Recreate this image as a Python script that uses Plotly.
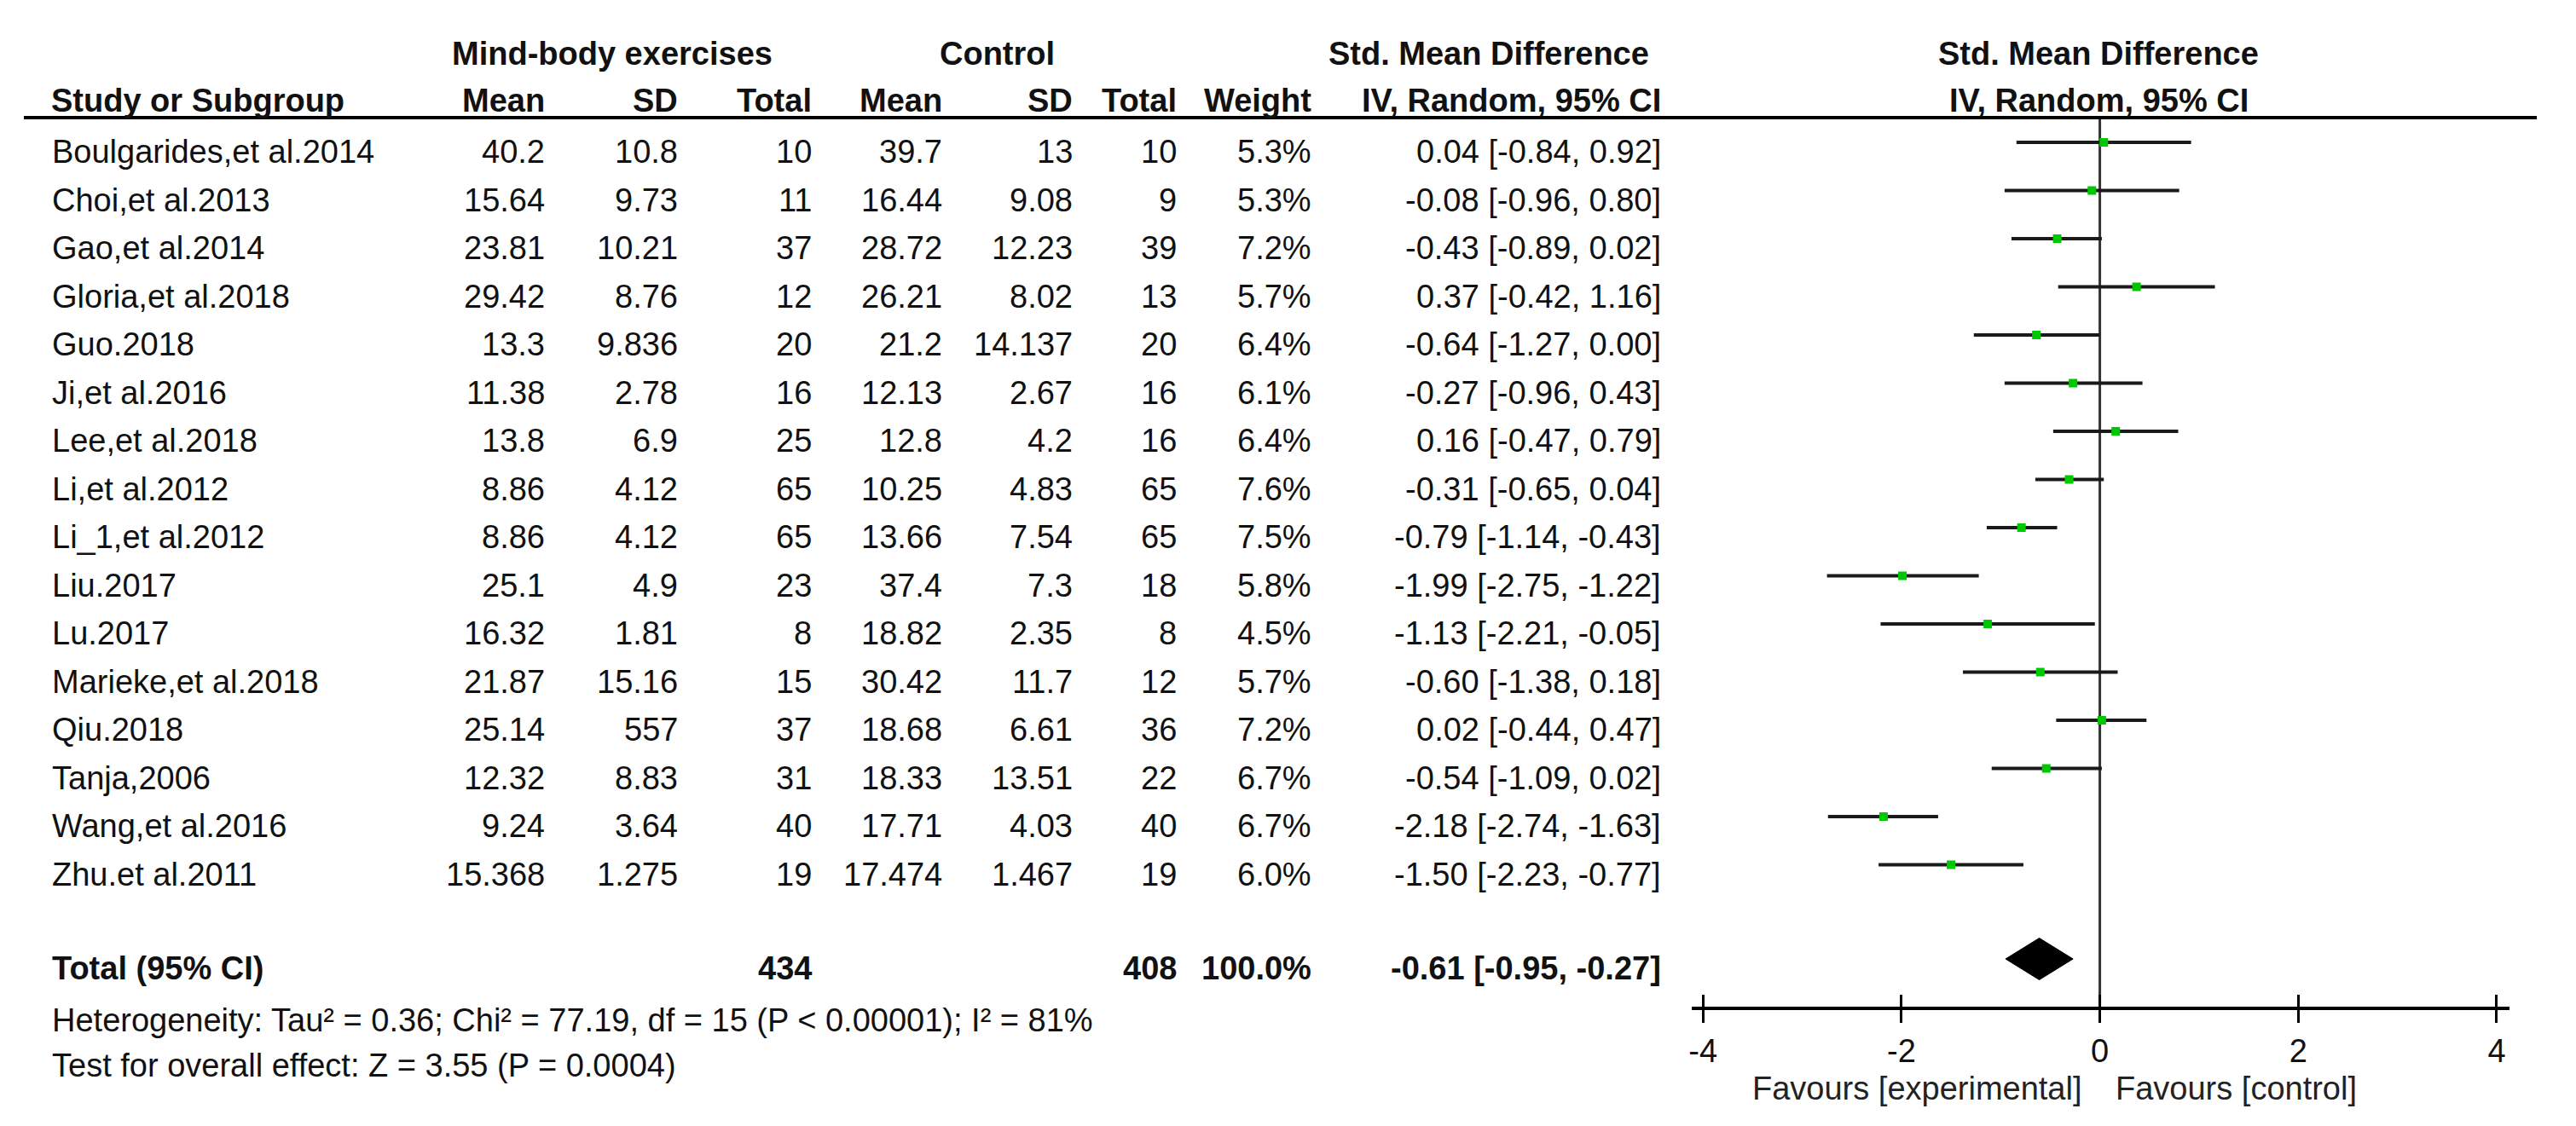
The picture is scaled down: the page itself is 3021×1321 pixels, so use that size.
import plotly.graph_objects as go

# ---------------- data ----------------
studies = ["Boulgarides,et al.2014", "Choi,et al.2013", "Gao,et al.2014", "Gloria,et al.2018",
           "Guo.2018", "Ji,et al.2016", "Lee,et al.2018", "Li,et al.2012", "Li_1,et al.2012",
           "Liu.2017", "Lu.2017", "Marieke,et al.2018", "Qiu.2018", "Tanja,2006",
           "Wang,et al.2016", "Zhu.et al.2011"]
exp_mean = [40.2, 15.64, 23.81, 29.42, 13.3, 11.38, 13.8, 8.86, 8.86, 25.1, 16.32, 21.87, 25.14, 12.32, 9.24, 15.368]
exp_sd = [10.8, 9.73, 10.21, 8.76, 9.836, 2.78, 6.9, 4.12, 4.12, 4.9, 1.81, 15.16, 557, 8.83, 3.64, 1.275]
exp_n = [10, 11, 37, 12, 20, 16, 25, 65, 65, 23, 8, 15, 37, 31, 40, 19]
ctl_mean = [39.7, 16.44, 28.72, 26.21, 21.2, 12.13, 12.8, 10.25, 13.66, 37.4, 18.82, 30.42, 18.68, 18.33, 17.71, 17.474]
ctl_sd = [13, 9.08, 12.23, 8.02, 14.137, 2.67, 4.2, 4.83, 7.54, 7.3, 2.35, 11.7, 6.61, 13.51, 4.03, 1.467]
ctl_n = [10, 9, 39, 13, 20, 16, 16, 65, 65, 18, 8, 12, 36, 22, 40, 19]
weight = [5.3, 5.3, 7.2, 5.7, 6.4, 6.1, 6.4, 7.6, 7.5, 5.8, 4.5, 5.7, 7.2, 6.7, 6.7, 6.0]
smd = [0.04, -0.08, -0.43, 0.37, -0.64, -0.27, 0.16, -0.31, -0.79, -1.99, -1.13, -0.60, 0.02, -0.54, -2.18, -1.50]
ci_lo = [-0.84, -0.96, -0.89, -0.42, -1.27, -0.96, -0.47, -0.65, -1.14, -2.75, -2.21, -1.38, -0.44, -1.09, -2.74, -2.23]
ci_hi = [0.92, 0.80, 0.02, 1.16, 0.00, 0.43, 0.79, 0.04, -0.43, -1.22, -0.05, 0.18, 0.47, 0.02, -1.63, -0.77]

total_exp_n = 434
total_ctl_n = 408
total_weight = 100.0
total_smd = -0.61
total_lo = -0.95
total_hi = -0.27

heterogeneity = "Heterogeneity: Tau² = 0.36; Chi² = 77.19, df = 15 (P < 0.00001); I² = 81%"
overall_test = "Test for overall effect: Z = 3.55 (P = 0.0004)"

tick_vals = [-4, -2, 0, 2, 4]
tick_text = ["-4", "-2", "0", "2", "4"]

# ---------------- layout constants ----------------
PAGE_W, PAGE_H = 3021, 1321
OFF = 8                              # default body margin of the html page
W, H = PAGE_W - 2 * OFF, PAGE_H - 2 * OFF
ROW0, ROWH = 167.0, 56.5             # page-pixel y of first study line, row pitch


def ry(py):
    """page pixel y -> row-unit y"""
    return (py - ROW0) / ROWH


def px(x):
    """page pixel x -> paper fraction"""
    return (x - OFF) / W


FONT = "Liberation Sans, Arial, sans-serif"
FS = 38
TXT = "#111111"

n = len(studies)
rows = list(range(n))
total_row = ry(1125)
axis_row_px = 1183

fig = go.Figure()

# CI lines
xs, ys = [], []
for i in rows:
    xs += [ci_lo[i], ci_hi[i], None]
    ys += [i, i, None]
fig.add_trace(go.Scatter(x=xs, y=ys, mode="lines", line=dict(color="#1a1a1a", width=4),
                         hoverinfo="skip", showlegend=False))
# point estimates
fig.add_trace(go.Scatter(x=smd, y=rows, mode="markers",
                         marker=dict(symbol="square", size=10, color="#00C800",
                                     line=dict(width=0)),
                         hoverinfo="skip", showlegend=False))
# diamond
dh = 24.5 / ROWH
fig.add_trace(go.Scatter(x=[total_lo, total_smd, total_hi, total_smd, total_lo],
                         y=[total_row, total_row - dh, total_row, total_row + dh, total_row],
                         mode="lines", fill="toself", fillcolor="#000000",
                         line=dict(color="#000000", width=1),
                         hoverinfo="skip", showlegend=False))
# dummy trace for overlay axis (upward ticks)
fig.add_trace(go.Scatter(x=[0], y=[0], xaxis="x2", yaxis="y", mode="markers",
                         marker=dict(opacity=0), hoverinfo="skip", showlegend=False))

ann = []


def add(text, x, y, anchor="left", bold=False, yshift=-11):
    ann.append(dict(text=f"<b>{text}</b>" if bold else text, x=px(x), xref="paper",
                    y=y, yref="y", xanchor=anchor, yanchor="middle", showarrow=False,
                    yshift=yshift, font=dict(family=FONT, size=FS, color=TXT)))


# header row 1
add("Mind-body exercises", 715, ry(63), "center", True, 0)
add("Control", 1167, ry(63), "center", True, 0)
add("Std. Mean Difference", 1744, ry(63), "center", True, 0)
add("Std. Mean Difference", 2460, ry(63), "center", True, 0)
# header row 2
hy = ry(118)
add("Study or Subgroup", 54, hy, "left", True, 0)
col_r = [638, 794, 951, 1104, 1258, 1380, 1538, 1949]
for lab, xr in zip(["Mean", "SD", "Total", "Mean", "SD", "Total", "Weight", "IV, Random, 95% CI"], col_r):
    add(lab, xr, hy, "right", True, 0)
add("IV, Random, 95% CI", 2461, hy, "center", True, 0)

# study rows
for i in rows:
    add(studies[i], 55, i, "left")
    vals = [f"{exp_mean[i]:g}", f"{exp_sd[i]:g}", f"{exp_n[i]}",
            f"{ctl_mean[i]:g}", f"{ctl_sd[i]:g}", f"{ctl_n[i]}",
            f"{weight[i]:.1f}%", f"{smd[i]:.2f} [{ci_lo[i]:.2f}, {ci_hi[i]:.2f}]"]
    for v, xr in zip(vals, col_r):
        add(v, xr, i, "right")

# total row
add("Total (95% CI)", 55, total_row, "left", True)
add(f"{total_exp_n}", col_r[2], total_row, "right", True)
add(f"{total_ctl_n}", col_r[5], total_row, "right", True)
add(f"{total_weight:.1f}%", col_r[6], total_row, "right", True)
add(f"{total_smd:.2f} [{total_lo:.2f}, {total_hi:.2f}]", col_r[7], total_row, "right", True)

add(heterogeneity, 55, ry(1197), "left", False, 0)
add(overall_test, 55, ry(1250), "left", False, 0)

# favours labels
ann.append(dict(text="Favours [experimental]", x=-0.16, xref="x", y=ry(1277), yref="y",
                xanchor="right", yanchor="middle", showarrow=False,
                font=dict(family=FONT, size=FS, color="#222222")))
ann.append(dict(text="Favours [control]", x=0.14, xref="x", y=ry(1277), yref="y",
                xanchor="left", yanchor="middle", showarrow=False,
                font=dict(family=FONT, size=FS, color="#222222")))

shapes = [
    # header rule
    dict(type="line", xref="paper", yref="y", x0=px(24), x1=px(2975),
         y0=ry(138), y1=ry(138), line=dict(color="#000000", width=4)),
    # line of no effect
    dict(type="line", xref="x", yref="y", x0=0, x1=0, y0=ry(138), y1=ry(axis_row_px),
         line=dict(color="#333333", width=3), layer="below"),
]

x_range = [-4.11, 4.13]
x_domain = [px(1983), px(2943)]
axis_pos = 1 - (axis_row_px - OFF) / H

fig.update_layout(
    width=W, height=H,
    margin=dict(l=0, r=0, t=0, b=0),
    paper_bgcolor="white", plot_bgcolor="white",
    showlegend=False,
    annotations=ann, shapes=shapes,
    xaxis=dict(range=x_range, domain=x_domain, anchor="free", position=axis_pos,
               showgrid=False, zeroline=False, showline=True, linecolor="#000000", linewidth=4,
               ticks="outside", ticklen=15, tickwidth=3, tickcolor="#000000",
               tickvals=tick_vals, ticktext=tick_text,
               tickfont=dict(family=FONT, size=FS, color="#111111"), fixedrange=True),
    xaxis2=dict(range=x_range, domain=x_domain, anchor="free", position=axis_pos,
                overlaying="x", showgrid=False, zeroline=False, showline=False,
                ticks="inside", ticklen=16, tickwidth=3, tickcolor="#000000",
                tickvals=tick_vals, showticklabels=False, fixedrange=True),
    yaxis=dict(range=[ry(OFF + H), ry(OFF)], domain=[0, 1], visible=False,
               showgrid=False, zeroline=False, fixedrange=True),
)

fig.write_html("out.html", config={"displayModeBar": False})
